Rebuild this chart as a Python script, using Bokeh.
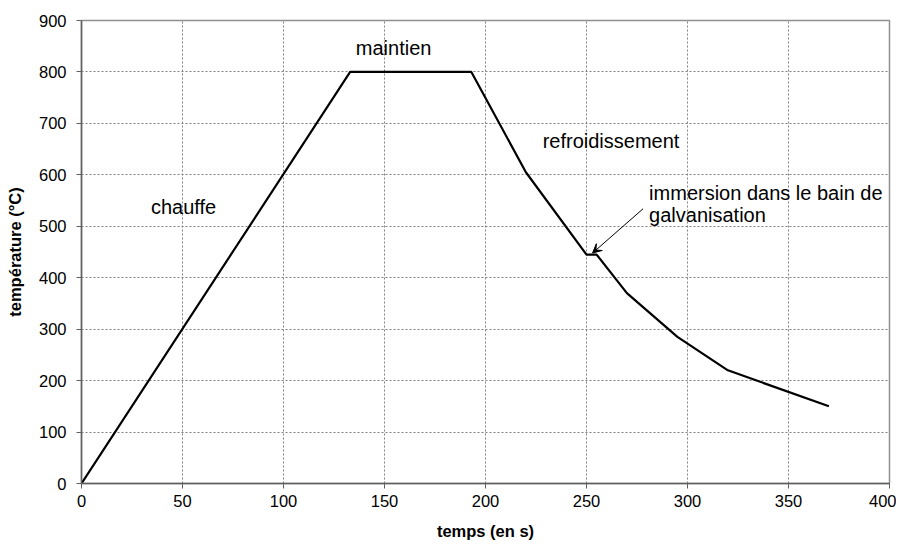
from bokeh.plotting import figure
from bokeh.models import Label, Arrow, VeeHead, FixedTicker
from bokeh.embed import file_html
from bokeh.resources import INLINE

# data
temps = [0, 133, 193, 220, 250, 255, 270, 295, 320, 370]
temperature = [0, 800, 800, 605, 445, 445, 370, 285, 220, 150]
x_ticks = [0, 50, 100, 150, 200, 250, 300, 350, 400]
y_ticks = [0, 100, 200, 300, 400, 500, 600, 700, 800, 900]

FONT = "Liberation Sans"

p = figure(width=896, height=542, output_backend="svg", toolbar_location=None,
           x_range=(0, 400), y_range=(0, 900),
           min_border_left=81, min_border_right=7, min_border_top=20, min_border_bottom=59)

p.line(temps, temperature, line_color="black", line_width=2.2)

p.xaxis.ticker = FixedTicker(ticks=x_ticks)
p.yaxis.ticker = FixedTicker(ticks=y_ticks)
for ax in (p.xaxis[0], p.yaxis[0]):
    ax.major_label_text_font = FONT
    ax.major_label_text_font_size = "16.5px"
    ax.major_label_text_color = "black"
    ax.axis_label_text_font = FONT
    ax.axis_label_text_font_size = "16.5px"
    ax.axis_label_text_font_style = "bold"
    ax.axis_label_text_color = "black"
    ax.axis_line_color = "#606060"
    ax.axis_line_width = 1.5
    ax.major_tick_line_color = "#606060"
    ax.major_tick_in = 0
    ax.major_tick_out = 5
    ax.minor_tick_line_color = None
p.xaxis.axis_label = "temps (en s)"
p.yaxis.axis_label = "température (°C)"
p.xaxis.major_label_standoff = 6
p.yaxis.major_label_standoff = 10
p.xaxis.axis_label_standoff = 12
p.yaxis.axis_label_standoff = 12

p.grid.grid_line_color = "#808080"
p.grid.grid_line_dash = "2 2"
p.grid.grid_line_width = 1
p.outline_line_color = "#909090"
p.outline_line_width = 1.5
p.background_fill_color = "white"
p.border_fill_color = "white"

labels = [
    ("maintien", 154.5, 847, "center"),
    ("chauffe", 50.5, 537, "center"),
    ("refroidissement", 228.3, 665, "left"),
    ("immersion dans le bain de", 281, 564, "left"),
    ("galvanisation", 281, 521, "left"),
]
for txt, x, y, align in labels:
    p.add_layout(Label(x=x, y=y, text=txt, text_font=FONT, text_font_size="20px",
                       text_align=align, text_baseline="middle", text_color="black"))

p.add_layout(Arrow(end=VeeHead(size=9, fill_color="black", line_color="black"),
                   x_start=278, y_start=534, x_end=253, y_end=448,
                   line_color="black", line_width=1))

open("out.html", "w").write(file_html(p, INLINE))
